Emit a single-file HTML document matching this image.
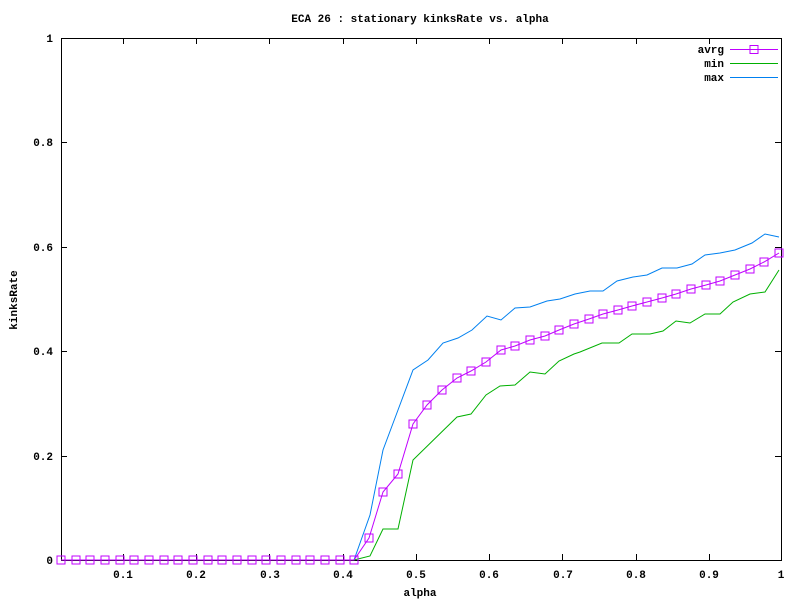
<!DOCTYPE html>
<html><head><style>body{margin:0;background:#fff}text{font-family:"Liberation Mono","DejaVu Sans Mono",monospace;font-size:11px;font-weight:bold;fill:#000}</style></head><body>
<svg width="800" height="600" xmlns="http://www.w3.org/2000/svg">
<rect width="800" height="600" fill="#fff"/>
<rect x="61.5" y="38.5" width="720" height="522" fill="none" stroke="#000"/>
<g stroke="#000">
<path d="M61 456.5h6M781 456.5h-6M61 351.5h6M781 351.5h-6M61 247.5h6M781 247.5h-6M61 142.5h6M781 142.5h-6"/>
<path d="M123.5 560v-6M123.5 38v6M196.5 560v-6M196.5 38v6M269.5 560v-6M269.5 38v6M343.5 560v-6M343.5 38v6M416.5 560v-6M416.5 38v6M489.5 560v-6M489.5 38v6M562.5 560v-6M562.5 38v6M636.5 560v-6M636.5 38v6M709.5 560v-6M709.5 38v6"/>
</g>
<g text-anchor="end">
<text x="53" y="564">0</text><text x="53" y="460">0.2</text><text x="53" y="355">0.4</text><text x="53" y="251">0.6</text><text x="53" y="146">0.8</text><text x="53" y="42">1</text>
</g>
<g text-anchor="middle">
<text x="123" y="578">0.1</text><text x="196" y="578">0.2</text><text x="270" y="578">0.3</text><text x="343" y="578">0.4</text><text x="416" y="578">0.5</text><text x="489" y="578">0.6</text><text x="563" y="578">0.7</text><text x="636" y="578">0.8</text><text x="709" y="578">0.9</text><text x="781" y="578">1</text>
<text x="420" y="596">alpha</text>
<text x="420" y="22">ECA 26 : stationary kinksRate vs. alpha</text>
<text x="17" y="300" transform="rotate(-90 17 300)">kinksRate</text>
</g>
<g text-anchor="end"><text x="724" y="53">avrg</text><text x="724" y="67">min</text><text x="724" y="81">max</text></g>
<path d="M730 49.5h48" stroke="#c000ff"/><rect x="750" y="45.5" width="8" height="8" fill="none" stroke="#c000ff"/>
<path d="M730 63.5h48" stroke="#00b000"/>
<path d="M730 77.5h48" stroke="#0080f0"/>
<polyline fill="none" stroke="#00b000" points="61,560 354,560 370,556 383,529 398,529 413,460 457,417 471,414 486,395 500,386 515,385 530,372 545,374 559,361 574,354 580,352 602,343 619,343 632,334 650,334 663,331 676,321 690,323 705,314 720,314 733,302 750,294 765,292 779,270"/>
<polyline fill="none" stroke="#0080f0" points="61,560 354,560 370,515 383,450 398,410 413,370 428,360 443,343 458,338 472,330 487,316 501,320 515,308 530,307 547,301 560,299 575,294 590,291 603,291 617,281 633,277 647,275 662,268 677,268 692,264 705,255 720,253 735,250 752,243 765,234 779,237"/>
<polyline id="av" fill="none" stroke="#c000ff" points="61,560 76,560 90,560 105,560 120,560 134,560 149,560 164,560 178,560 193,560 208,560 222,560 237,560 252,560 266,560 281,560 296,560 310,560 325,560 340,560 354,560 369,538 383,492 398,474 413,424 427,405 442,390 457,378 471,371 486,362 501,350 515,346 530,340 545,336 559,330 574,324 589,319 603,314 618,310 632,306 647,302 662,298 676,294 691,289 706,285 720,281 735,275 750,269 764,262 779,253"/>
<g fill="none" stroke="#c000ff">
<script>
</script>
</g>
<g fill="none" stroke="#c000ff" id="mk">
<rect x="57" y="556" width="8" height="8"/><rect x="72" y="556" width="8" height="8"/><rect x="86" y="556" width="8" height="8"/><rect x="101" y="556" width="8" height="8"/><rect x="116" y="556" width="8" height="8"/><rect x="130" y="556" width="8" height="8"/><rect x="145" y="556" width="8" height="8"/><rect x="160" y="556" width="8" height="8"/><rect x="174" y="556" width="8" height="8"/><rect x="189" y="556" width="8" height="8"/><rect x="204" y="556" width="8" height="8"/><rect x="218" y="556" width="8" height="8"/><rect x="233" y="556" width="8" height="8"/><rect x="248" y="556" width="8" height="8"/><rect x="262" y="556" width="8" height="8"/><rect x="277" y="556" width="8" height="8"/><rect x="292" y="556" width="8" height="8"/><rect x="306" y="556" width="8" height="8"/><rect x="321" y="556" width="8" height="8"/><rect x="336" y="556" width="8" height="8"/><rect x="350" y="556" width="8" height="8"/><rect x="365" y="534" width="8" height="8"/><rect x="379" y="488" width="8" height="8"/><rect x="394" y="470" width="8" height="8"/><rect x="409" y="420" width="8" height="8"/><rect x="423" y="401" width="8" height="8"/><rect x="438" y="386" width="8" height="8"/><rect x="453" y="374" width="8" height="8"/><rect x="467" y="367" width="8" height="8"/><rect x="482" y="358" width="8" height="8"/><rect x="497" y="346" width="8" height="8"/><rect x="511" y="342" width="8" height="8"/><rect x="526" y="336" width="8" height="8"/><rect x="541" y="332" width="8" height="8"/><rect x="555" y="326" width="8" height="8"/><rect x="570" y="320" width="8" height="8"/><rect x="585" y="315" width="8" height="8"/><rect x="599" y="310" width="8" height="8"/><rect x="614" y="306" width="8" height="8"/><rect x="628" y="302" width="8" height="8"/><rect x="643" y="298" width="8" height="8"/><rect x="658" y="294" width="8" height="8"/><rect x="672" y="290" width="8" height="8"/><rect x="687" y="285" width="8" height="8"/><rect x="702" y="281" width="8" height="8"/><rect x="716" y="277" width="8" height="8"/><rect x="731" y="271" width="8" height="8"/><rect x="746" y="265" width="8" height="8"/><rect x="760" y="258" width="8" height="8"/><rect x="775" y="249" width="8" height="8"/>
</g>
</svg>
</body></html>
